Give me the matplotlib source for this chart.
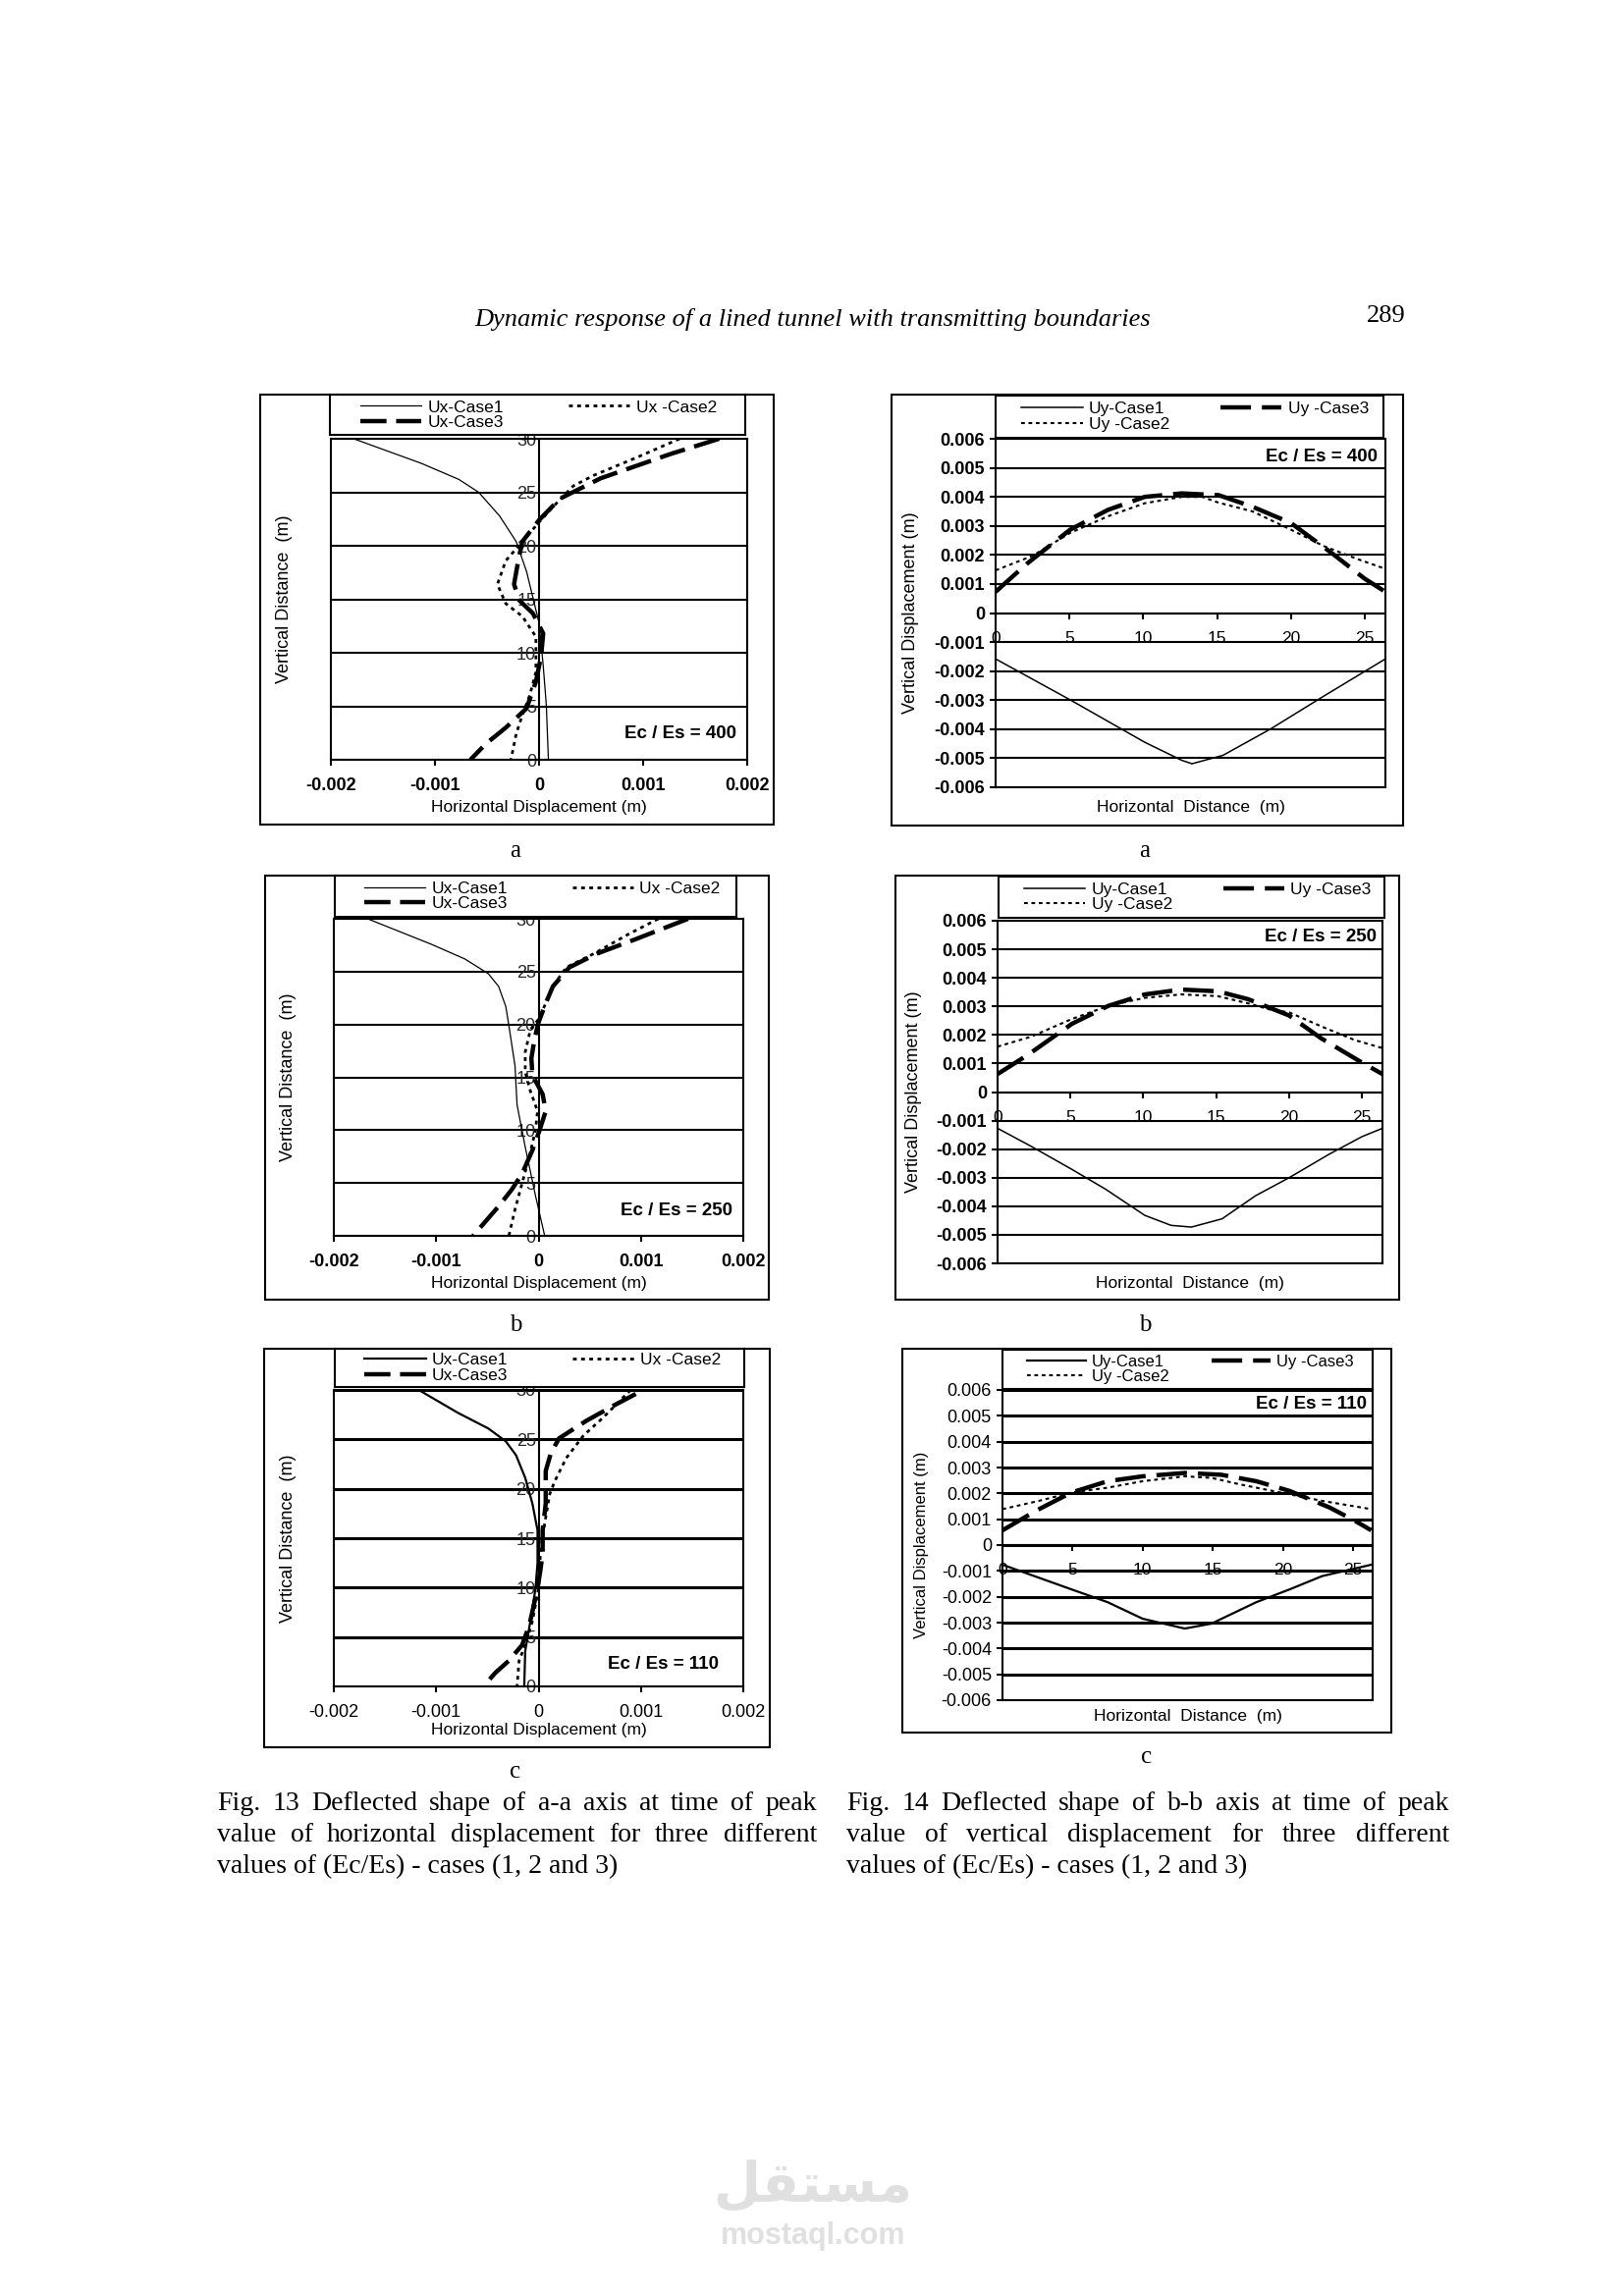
import matplotlib
matplotlib.use('Agg')
import matplotlib.pyplot as plt
from matplotlib.lines import Line2D
from matplotlib.patches import Rectangle

W, H = 1654, 2339
plt.rcParams['font.family'] = ['Liberation Sans', 'DejaVu Sans']

# ---- Fig 13: horizontal displacement (x) vs vertical distance (y) ----
# Ec/Es = 400
a_ux1_y = [30, 27.7, 26.2, 25.0, 22.8, 20.4, 17.6, 15.2, 12.8, 8.8, 5.1, 0]
a_ux1_x = [-0.00178, -0.00113, -0.00077, -0.00058, -0.00038, -0.00022, -0.00012, -0.00006, 0.0, 0.00004, 0.00007, 0.00009]
a_ux2_y = [30, 28.3, 26.6, 25.6, 23.7, 22.2, 20.4, 18.6, 16.4, 14.6, 13.4, 11.5, 8.2, 6.0, 4.2, 2.4, 0]
a_ux2_x = [0.00135, 0.00095, 0.00053, 0.00033, 0.00014, 0.0, -0.00016, -0.00032, -0.0004, -0.00032, -0.00016, -0.00003, -0.00003, -0.00009, -0.00016, -0.00022, -0.00027]
a_ux3_y = [30, 28.6, 26.3, 24.4, 22.4, 20.4, 18.6, 16.4, 14.9, 13.7, 11.8, 9.7, 7.3, 4.8, 3.0, 1.5, 0]
a_ux3_x = [0.00173, 0.00127, 0.00059, 0.0002, 0.0, -0.00016, -0.0002, -0.00024, -0.00019, -0.00006, 0.00004, 0.00002, -0.00003, -0.00012, -0.00032, -0.00051, -0.00066]
# Ec/Es = 250
b_ux1_y = [30, 27.6, 26.2, 24.8, 23.6, 21.7, 19.9, 16.1, 12.4, 8.4, 3.8, 0]
b_ux1_x = [-0.00167, -0.00105, -0.00072, -0.00049, -0.00039, -0.00032, -0.00029, -0.00023, -0.00021, -0.00013, -0.00003, 0.00006]
b_ux2_y = [30, 28.5, 26.7, 25.4, 23.6, 22.0, 20.5, 19.5, 17.4, 15.5, 13.7, 11.8, 10, 7.5, 5.0, 2.5, 0]
b_ux2_x = [0.00117, 0.00087, 0.00054, 0.00027, 0.00014, 0.00007, 0.0, -0.00008, -0.00013, -0.00013, -0.00008, -0.00001, -0.00003, -0.00009, -0.00016, -0.00023, -0.00029]
b_ux3_y = [30, 28, 26.7, 25.4, 23.6, 22, 20.2, 18.6, 16.8, 15.2, 13.4, 11.8, 10, 8.1, 5.9, 4.4, 2.8, 0]
b_ux3_x = [0.00146, 0.00093, 0.00057, 0.0003, 0.00014, 0.00007, 0.0, -0.00004, -0.00007, -0.00006, 0.00004, 0.00007, 0.00001, -0.00006, -0.00016, -0.00026, -0.00039, -0.00064]
# Ec/Es = 110
c_ux1_y = [30, 27.7, 26.1, 24.8, 23.4, 21.1, 18.5, 15.8, 12.5, 9.9, 6.6, 3.6, 0]
c_ux1_x = [-0.00117, -0.00079, -0.00049, -0.00032, -0.00022, -0.00013, -0.00006, -0.00001, -0.00001, -0.00003, -0.00008, -0.00013, -0.00014]
c_ux2_y = [30, 27.2, 25.4, 23.1, 20.8, 19.5, 16.5, 13.8, 9.9, 6.6, 4.2, 2.6, 0]
c_ux2_x = [0.0009, 0.00063, 0.00044, 0.00027, 0.00016, 0.00011, 0.00006, 0.00002, 0.0, -0.00006, -0.00013, -0.00019, -0.00021]
c_ux3_y = [29.6, 28.4, 26.9, 25.1, 23.6, 21.8, 18.5, 15.8, 13.5, 11.9, 9.9, 6.2, 4.2, 2.6, 1.4, 0]
c_ux3_x = [0.00095, 0.00073, 0.00047, 0.0002, 0.00012, 0.00007, 0.00007, 0.00004, 0.00004, 0.00002, -0.00001, -0.00009, -0.00016, -0.00029, -0.00042, -0.00054]

# ---- Fig 14: horizontal distance (x) vs vertical displacement (y) ----
a_uy1_x = [0, 5.05, 10.1, 12.6, 13.3, 15.4, 18.6, 22.2, 26.4]
a_uy1_y = [-0.00158, -0.00299, -0.00445, -0.00507, -0.00519, -0.0049, -0.004, -0.00287, -0.00158]
a_uy2_x = [0, 2.5, 5.05, 7.6, 10.1, 12.6, 14.0, 15.1, 17.4, 20.0, 22.2, 24.5, 26.4]
a_uy2_y = [0.00147, 0.00197, 0.00276, 0.00333, 0.00378, 0.004, 0.004, 0.0038, 0.0035, 0.00287, 0.00231, 0.00186, 0.00152]
a_uy3_x = [0, 2.1, 5.05, 7.6, 10.1, 12.6, 15.1, 17.4, 20.0, 22.7, 25.0, 26.4]
a_uy3_y = [0.00073, 0.00169, 0.00287, 0.00355, 0.004, 0.00412, 0.00406, 0.00366, 0.0031, 0.00209, 0.00118, 0.00073]

b_uy1_x = [0, 2.3, 5.1, 7.4, 10.1, 11.9, 13.3, 15.4, 17.7, 20.0, 22.7, 25.0, 26.4]
b_uy1_y = [-0.00127, -0.0019, -0.00271, -0.0034, -0.00432, -0.00467, -0.00473, -0.00444, -0.00363, -0.003, -0.00219, -0.00156, -0.00127]
b_uy2_x = [0, 2.3, 5.1, 7.6, 10.1, 12.6, 15.1, 17.4, 18.6, 20.0, 22.3, 24.5, 26.4]
b_uy2_y = [0.00159, 0.00194, 0.00256, 0.00302, 0.0033, 0.00342, 0.00336, 0.00308, 0.0029, 0.00279, 0.00228, 0.00182, 0.00154]
b_uy3_x = [0, 2.1, 5.1, 7.6, 10.1, 12.6, 15.1, 17.2, 20.0, 22.2, 25.0, 26.4]
b_uy3_y = [0.00063, 0.00131, 0.00239, 0.00302, 0.00342, 0.00359, 0.00353, 0.00325, 0.00268, 0.00188, 0.00103, 0.00063]

c_uy1_x = [0, 4.9, 7.5, 10.0, 13.0, 14.9, 18.1, 20.5, 22.8, 26.3]
c_uy1_y = [-0.00076, -0.00171, -0.00221, -0.00285, -0.00323, -0.00304, -0.00221, -0.00171, -0.0012, -0.00076]
c_uy2_x = [0, 2.6, 4.9, 7.5, 10.0, 13.0, 14.9, 17.0, 20.5, 22.8, 26.3]
c_uy2_y = [0.00139, 0.00171, 0.00203, 0.00222, 0.00247, 0.00266, 0.0026, 0.00234, 0.00196, 0.00171, 0.00139]
c_uy3_x = [0, 2.4, 4.9, 7.5, 10.0, 13.0, 15.6, 18.1, 20.5, 23.3, 25.1, 26.3]
c_uy3_y = [0.00057, 0.00133, 0.00203, 0.00247, 0.00266, 0.00279, 0.00272, 0.00247, 0.00209, 0.00146, 0.00095, 0.00057]

ux_ticks = [-0.002, -0.001, 0, 0.001, 0.002]
ux_ticklabels = ['-0.002', '-0.001', '0', '0.001', '0.002']
vd_ticks = [0, 5, 10, 15, 20, 25, 30]
hd_ticks = [0, 5, 10, 15, 20, 25]
uy_ticks = [-0.006, -0.005, -0.004, -0.003, -0.002, -0.001, 0, 0.001, 0.002, 0.003, 0.004, 0.005, 0.006]
uy_ticklabels = ['-0.006', '-0.005', '-0.004', '-0.003', '-0.002', '-0.001', '0',
                 '0.001', '0.002', '0.003', '0.004', '0.005', '0.006']

fig = plt.figure(figsize=(W / 100, H / 100), dpi=100)


def box(x0, y0, x1, y1):
    return [x0 / W, 1 - y1 / H, (x1 - x0) / W, (y1 - y0) / H]


def outer_frame(x0, y0, x1, y1):
    fig.add_artist(Rectangle((x0 / W, 1 - y1 / H), (x1 - x0) / W, (y1 - y0) / H,
                             transform=fig.transFigure, fill=False, lw=1.5, ec='black'))


def legend_box(pos, handles, labels, x_anchor, colsp, fs=12.5):
    lax = fig.add_axes(box(*pos))
    lax.set_xticks([])
    lax.set_yticks([])
    for s in lax.spines.values():
        s.set_linewidth(1.5)
    lax.legend(handles, labels, loc='center left', bbox_to_anchor=(x_anchor, 0.5), ncol=2,
               frameon=False, fontsize=fs, handlelength=3.6, handletextpad=0.35,
               columnspacing=colsp, labelspacing=0.0, borderpad=0, borderaxespad=0)


def left_panel(outer, plot, leg, x1, y1, x2, y2, x3, y3, ratio, txt_xy, ylab_x, xlab_y,
               heavy=False):
    outer_frame(*outer)
    ax = fig.add_axes(box(*plot))
    glw = 2.2 if heavy else 1.5
    s1 = dict(color='k', lw=1.6 if heavy else 0.9)
    s2 = dict(color='k', lw=2.0, ls=(0, (1.4, 1.6)))
    s3 = dict(color='k', lw=3.2, ls=(0, (6, 2.2)))
    ax.plot(x1, y1, **s1)
    ax.plot(x2, y2, **s2)
    ax.plot(x3, y3, **s3)
    ax.set_xlim(-0.002, 0.002)
    ax.set_ylim(0, 30)
    ax.set_xticks(ux_ticks)
    ax.set_xticklabels(ux_ticklabels, fontweight='normal' if heavy else 'bold')
    ax.set_yticks(vd_ticks)
    ax.set_yticklabels([str(v) for v in vd_ticks])
    ax.spines['left'].set_position(('data', 0))
    for s in ax.spines.values():
        s.set_linewidth(1.5)
    ax.axvline(-0.002, color='k', lw=1.5, clip_on=False)
    ax.grid(True, axis='y', color='k', lw=glw)
    ax.set_axisbelow(True)
    ax.tick_params(axis='x', direction='out', length=4, width=1.5, pad=9, labelsize=13)
    ax.tick_params(axis='y', length=0, pad=2, labelsize=13, labelcolor='#2a2a2a')
    ax.text(txt_xy[0], txt_xy[1], 'Ec / Es = ' + ratio, transform=ax.transAxes, ha='right',
            va='center', fontsize=13.5, fontweight='bold')
    cy = 1 - (plot[1] + plot[3]) / 2 / H
    fig.text(ylab_x / W, cy, 'Vertical Distance  (m)', rotation=90, ha='center', va='center',
             fontsize=13)
    fig.text((plot[0] + plot[2]) / 2 / W, 1 - xlab_y / H, 'Horizontal Displacement (m)',
             ha='center', va='center', fontsize=12.5)
    handles = [Line2D([], [], **s1), Line2D([], [], **s3), Line2D([], [], **s2)]
    legend_box(leg, handles, ['Ux-Case1', 'Ux-Case3', 'Ux -Case2'], 0.073, 3.8)
    return ax


def right_panel(outer, plot, leg, x1, y1, x2, y2, x3, y3, ratio, txt_xy, ylab_x, xlab_y,
                heavy=False):
    outer_frame(*outer)
    ax = fig.add_axes(box(*plot))
    glw = 2.2 if heavy else 1.5
    wt = 'normal' if heavy else 'bold'
    s1 = dict(color='k', lw=1.6 if heavy else 1.1)
    s2 = dict(color='k', lw=1.5, ls=(0, (1.8, 1.8)))
    s3 = dict(color='k', lw=3.2, ls=(0, (7, 2.5)))
    ax.plot(x1, y1, **s1)
    ax.plot(x2, y2, **s2)
    ax.plot(x3, y3, **s3)
    ax.set_xlim(0, 26.4)
    ax.set_ylim(-0.006, 0.006)
    ax.set_yticks(uy_ticks)
    ax.set_yticklabels(uy_ticklabels, fontweight=wt)
    ax.set_xticks(hd_ticks)
    ax.set_xticklabels([str(v) for v in hd_ticks], fontweight=wt)
    ax.spines['bottom'].set_position(('data', 0))
    for s in ax.spines.values():
        s.set_linewidth(1.5)
    ax.axhline(-0.006, color='k', lw=1.5, clip_on=False)
    ax.grid(True, axis='y', color='k', lw=glw)
    ax.set_axisbelow(True)
    ax.tick_params(axis='x', direction='out', length=4, width=1.5, pad=9, labelsize=12.5)
    ax.tick_params(axis='y', direction='out', length=4, width=1.5, pad=4, labelsize=13)
    ax.text(txt_xy[0], txt_xy[1], 'Ec / Es = ' + ratio, transform=ax.transAxes, ha='right',
            va='center', fontsize=13.5, fontweight='bold')
    cy = 1 - (plot[1] + plot[3]) / 2 / H
    fig.text(ylab_x / W, cy, 'Vertical Displacement (m)', rotation=90, ha='center', va='center',
             fontsize=12 if heavy else 13)
    fig.text((plot[0] + plot[2]) / 2 / W, 1 - xlab_y / H, 'Horizontal  Distance  (m)',
             ha='center', va='center', fontsize=12.5)
    handles = [Line2D([], [], **s1), Line2D([], [], **s2), Line2D([], [], **s3)]
    legend_box(leg, handles, ['Uy-Case1', 'Uy -Case2', 'Uy -Case3'], 0.066,
               2.6 if heavy else 3.0, fs=12 if heavy else 12.5)
    return ax


left_panel((265, 402, 788, 840), (337, 447, 761, 774), (336, 402, 759, 443),
           a_ux1_x, a_ux1_y, a_ux2_x, a_ux2_y, a_ux3_x, a_ux3_y, '400', (0.974, 0.08), 290, 823)
left_panel((270, 892, 783, 1324), (340, 936, 757, 1259), (341, 892, 750, 934),
           b_ux1_x, b_ux1_y, b_ux2_x, b_ux2_y, b_ux3_x, b_ux3_y, '250', (0.974, 0.08), 294, 1307)
left_panel((269, 1374, 784, 1780), (340, 1416, 757, 1718), (341, 1374, 758, 1413),
           c_ux1_x, c_ux1_y, c_ux2_x, c_ux2_y, c_ux3_x, c_ux3_y, '110', (0.94, 0.076), 294, 1762,
           heavy=True)

right_panel((908, 402, 1429, 841), (1014, 447, 1411, 802), (1014, 403, 1409, 446),
            a_uy1_x, a_uy1_y, a_uy2_x, a_uy2_y, a_uy3_x, a_uy3_y, '400', (0.98, 0.947), 928, 823)
right_panel((912, 892, 1425, 1324), (1016, 938, 1408, 1287), (1017, 893, 1410, 935),
            b_uy1_x, b_uy1_y, b_uy2_x, b_uy2_y, b_uy3_x, b_uy3_y, '250', (0.985, 0.954), 930, 1307)
right_panel((919, 1374, 1417, 1765), (1021, 1416, 1398, 1732), (1021, 1375, 1398, 1415),
            c_uy1_x, c_uy1_y, c_uy2_x, c_uy2_y, c_uy3_x, c_uy3_y, '110', (0.984, 0.953), 938, 1748,
            heavy=True)

# sub-figure letters
serif = ['Liberation Serif', 'DejaVu Serif']
for lx, ly, s in [(525, 867, 'a'), (1166, 867, 'a'), (525, 1350, 'b'), (1166, 1350, 'b'),
                  (525, 1805, 'c'), (1168, 1790, 'c')]:
    fig.text(lx / W, 1 - ly / H, s, ha='center', va='center', fontsize=18, family=serif)

# running head
fig.text(828 / W, 1 - 325 / H, 'Dynamic response of a lined tunnel with transmitting boundaries',
         ha='center', va='center', fontsize=19, style='italic', family=serif)
fig.text(1412 / W, 1 - 322 / H, '289', ha='center', va='center', fontsize=19, family=serif)


# captions, first two lines justified
def justify(words, x0, x1, y, fs=20):
    texts = [fig.text(0, 1 - y / H, w, ha='left', va='center', fontsize=fs, family=serif)
             for w in words]
    r = fig.canvas.get_renderer()
    widths = [t.get_window_extent(r).width for t in texts]
    gap = max((x1 - x0 - sum(widths)) / (len(words) - 1), 4)
    x = x0
    for t, w in zip(texts, widths):
        t.set_x(x / W)
        x += w + gap


cap_left = ['Fig. 13 Deflected shape of a-a axis at time of peak',
            'value of horizontal displacement for three different',
            'values of (Ec/Es) - cases (1, 2 and 3)']
cap_right = ['Fig. 14 Deflected shape of b-b axis at time of peak',
             'value of vertical displacement for three different',
             'values of (Ec/Es) - cases (1, 2 and 3)']
cap_y = [1838, 1869, 1902]
for lines, x0, x1 in [(cap_left, 221, 832), (cap_right, 862, 1476)]:
    for i, line in enumerate(lines):
        if i < 2:
            justify(line.split(' '), x0, x1, cap_y[i])
        else:
            fig.text(x0 / W, 1 - cap_y[i] / H, line, ha='left', va='center', fontsize=20,
                     family=serif)

# watermark
fig.text(828 / W, 1 - 2228 / H, '\uFEDE\uFED8\uFE98\uFEB4\uFEE3', ha='center', va='center',
         fontsize=40, fontweight='bold', color='#e0e0e0', family=['DejaVu Sans'])
fig.text(828 / W, 1 - 2278 / H, 'mostaql.com', ha='center', va='center', fontsize=22,
         fontweight='bold', color='#e0e0e0')

fig.savefig('out.png', dpi=100)
